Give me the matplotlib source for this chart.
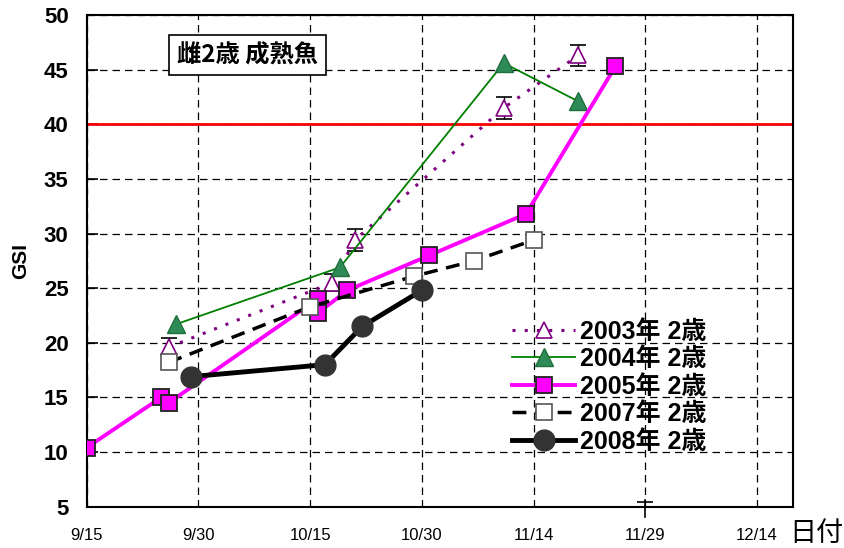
import numpy as np
import pandas as pd
import matplotlib.pyplot as plt

# GSI of 2-year-old females, by sampling date (month/day)
d2003 = ['9/26', '10/18', '10/21', '11/10', '11/20']
gsi2003 = [19.6, 25.5, 29.4, 41.5, 46.3]
err2003 = [0.8, 0.8, 1.0, 1.0, 1.0]

d2004 = ['9/27', '10/19', '11/10', '11/20']
gsi2004 = [21.7, 26.9, 45.6, 42.1]

d2005 = ['9/15', '9/25', '9/26', '10/16', '10/16', '10/20', '10/31', '11/13', '11/25']
gsi2005 = [10.4, 15.0, 14.5, 24.0, 22.7, 24.8, 28.0, 31.8, 45.3]

d2007 = ['9/26', '10/15', '10/29', '11/6', '11/14']
gsi2007 = [18.2, 23.3, 26.1, 27.5, 29.4]

d2008 = ['9/29', '10/17', '10/22', '10/30']
gsi2008 = [16.9, 18.0, 21.5, 24.8]

# lone error bar left on the axis at 11/29
d_stray = '11/29'
stray_cap = 5.4
stray_span = (4.05, 5.6)

xticks = ['9/15', '9/30', '10/15', '10/30', '11/14', '11/29', '12/14']
mature_line = 40


def to_date(days):
    # put every season on the same calendar year
    return pd.to_datetime(['2008/' + d for d in days])


plt.rcParams['font.family'] = ['Liberation Sans', 'Noto Sans CJK JP', 'DejaVu Sans']

fig = plt.figure(figsize=(8.45, 5.48), dpi=100)
ax = fig.add_axes([0.1026, 0.0754, 0.8355, 0.8972])

ax.axhline(mature_line, color='red', lw=2, zorder=2)

ax.errorbar(to_date(d2003), gsi2003, yerr=err2003, fmt='none',
            ecolor='black', elinewidth=1, capsize=6, capthick=1.2, zorder=3)
h03, = ax.plot(to_date(d2003), gsi2003, color='#800080', ls=(0, (1, 3)), lw=2.2,
               marker='^', ms=11, mfc='white', mec='#800080', mew=1.2,
               label='2003年 2歳', zorder=4)
h04, = ax.plot(to_date(d2004), gsi2004, color='#008000', lw=1.3, marker='^', ms=13,
               mfc='#2e8b57', mec='#1f6f3a', label='2004年 2歳', zorder=4)
h05, = ax.plot(to_date(d2005), gsi2005, color='#ff00ff', lw=2.8, marker='s', ms=11,
               mfc='#ff00ff', mec='#222222', mew=1.3, label='2005年 2歳', zorder=5)
h07, = ax.plot(to_date(d2007), gsi2007, color='black', lw=2.5, ls=(0, (4, 2.5)), marker='s', ms=11,
               mfc='white', mec='#555555', mew=1.2, label='2007年 2歳', zorder=5)
h08, = ax.plot(to_date(d2008), gsi2008, color='black', lw=3.5, marker='o', ms=15,
               mfc='#333333', mec='#333333', label='2008年 2歳', zorder=6)

xs = to_date([d_stray, d_stray])
ax.plot(xs, stray_span, color='black', lw=1.2, clip_on=False, zorder=7)
ax.plot(xs[:1], [stray_cap], color='black', marker='_', ms=11, mew=1.2, clip_on=False, zorder=7)

tick_dates = to_date(xticks)
ax.set_xlim(tick_dates[0], tick_dates[0] + pd.Timedelta(days=94.8))
ax.set_xticks(tick_dates)
ax.set_xticklabels(xticks, family=['Liberation Sans Narrow', 'Liberation Sans'], fontsize=12)
ax.set_ylim(5, 50)
ax.set_yticks(np.arange(5, 51, 5))
for lab in ax.get_yticklabels():
    lab.set_fontsize(16)
    lab.set_fontweight('bold')
ax.tick_params(axis='x', length=0, pad=15)
ax.tick_params(axis='y', direction='in', length=8, width=1.2, pad=13)

ax.grid(True, color='black', ls=(0, (6, 4)), lw=0.9, zorder=1)
ax.set_axisbelow(True)
for s in ax.spines.values():
    s.set_linewidth(1.5)

ax.set_ylabel('GSI', fontsize=15, fontweight='bold', labelpad=10)
fig.text(0.966, 0.026, '日付', fontsize=19.5, family=['Noto Sans CJK JP'], ha='center', va='center')

ax.text(0.228, 0.918, '雌2歳 成熟魚', transform=ax.transAxes, fontsize=17.5, fontweight='bold',
        family=['Noto Sans CJK JP'], ha='center', va='center',
        bbox=dict(boxstyle='square,pad=0.33', fc='white', ec='black', lw=1.2), zorder=8)

handles = [h03, h04, h05, h07, h08]
ax.legend(handles, [h.get_label() for h in handles],
          loc='center left', bbox_to_anchor=(0.602, 0.244), frameon=False,
          prop={'size': 18, 'weight': 'bold'}, handlelength=2.55,
          handletextpad=0.2, labelspacing=0.14, borderpad=0, borderaxespad=0)

plt.savefig('out.png', dpi=100)
